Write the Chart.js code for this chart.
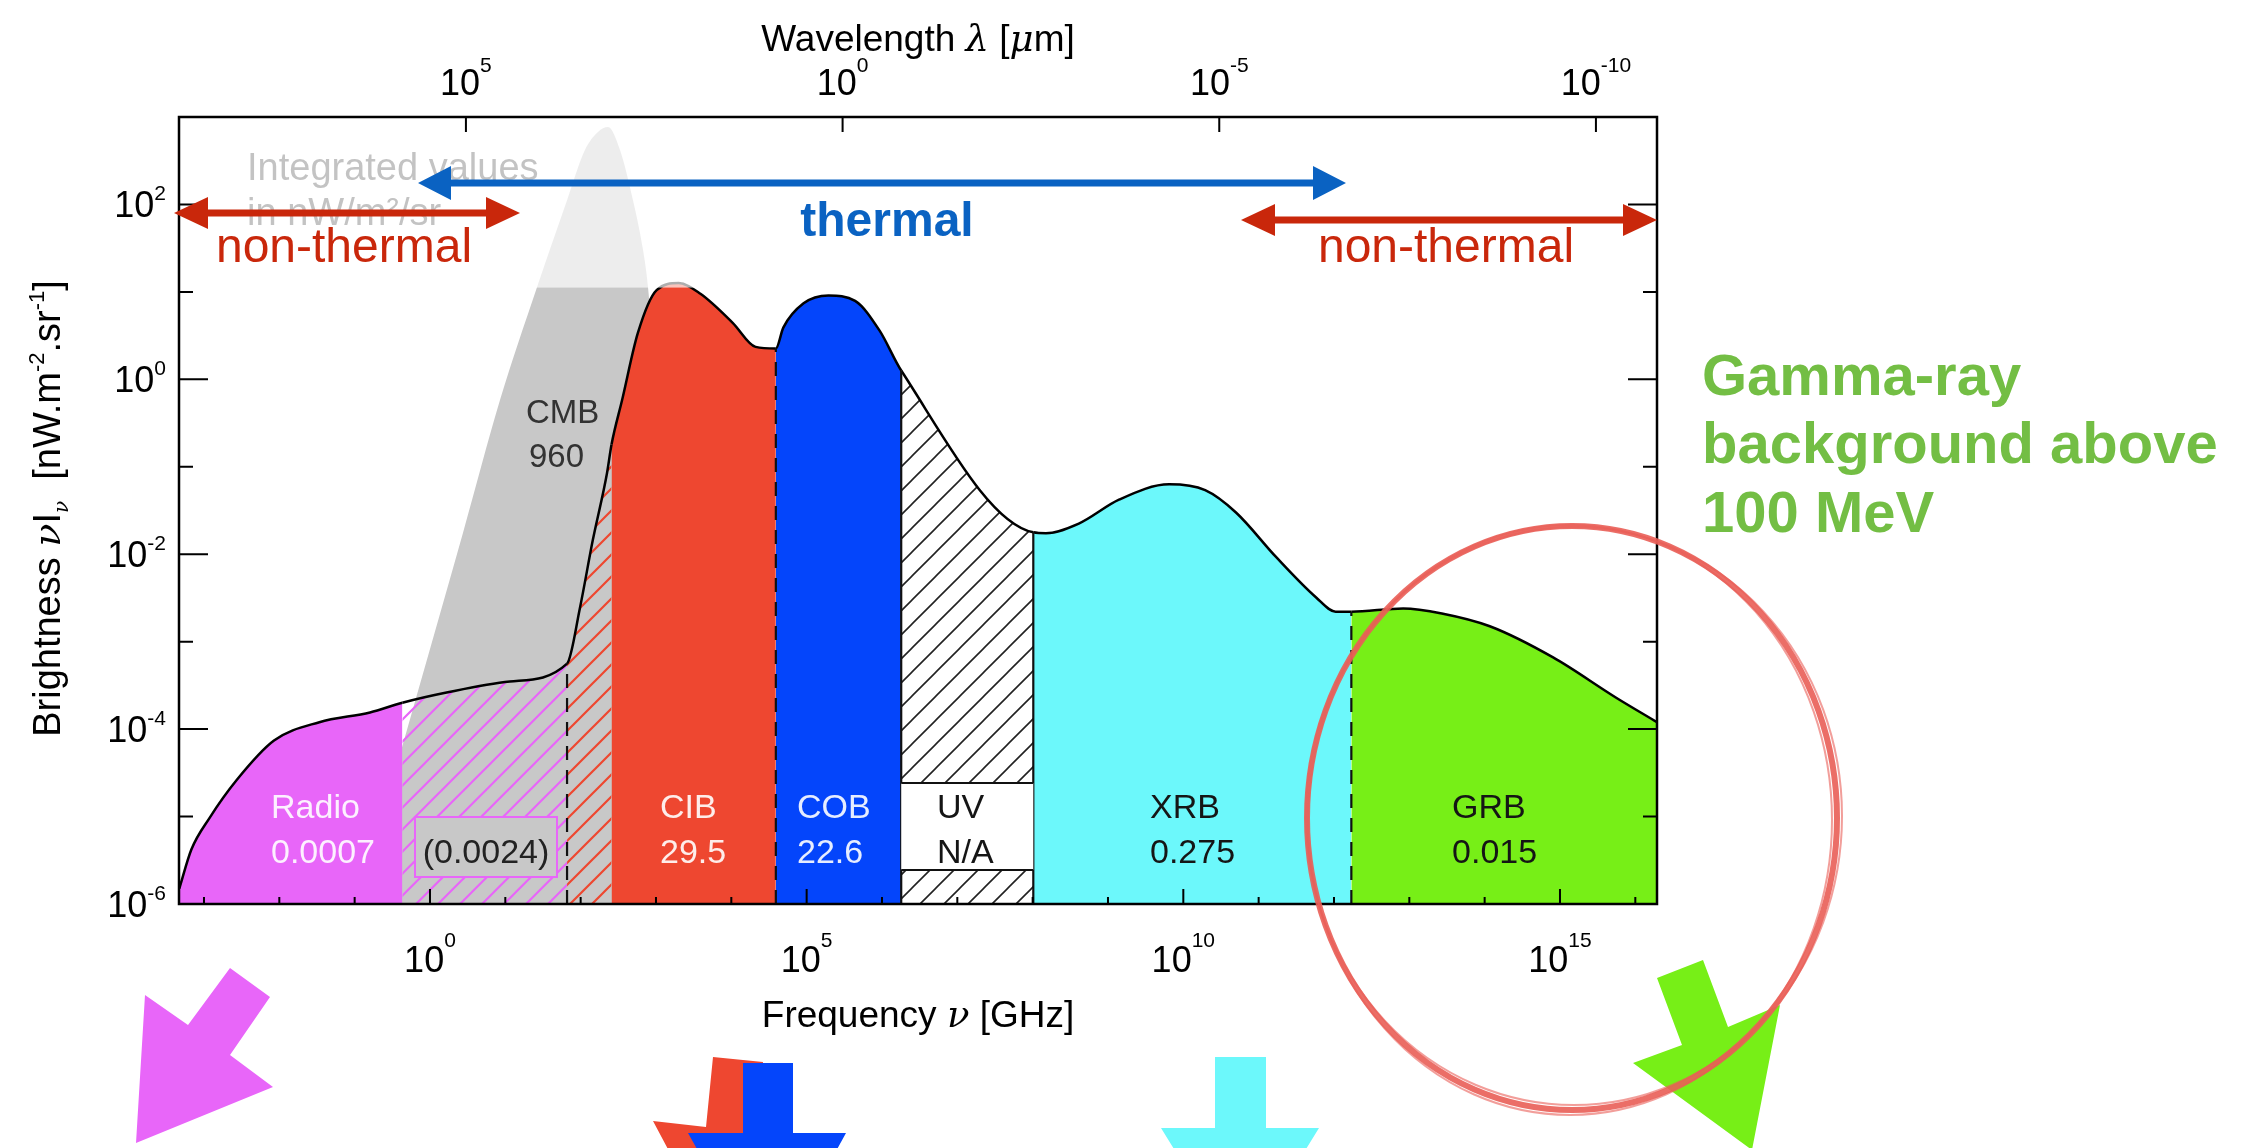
<!DOCTYPE html>
<html>
<head>
<meta charset="utf-8">
<title>Extragalactic background</title>
<script src="https://cdn.jsdelivr.net/npm/chart.js@4.4.0/dist/chart.umd.min.js"></script>
<style>
  html, body { margin: 0; padding: 0; background: #fff; }
  canvas { display: block; }
</style>
</head>
<body>
<canvas id="ebl" width="2241" height="1148"></canvas>
<script>
// values: frequency in GHz, brightness nu*I_nu in nW m^-2 sr^-1
const envFreq = [4.7e-4, 6.8e-4, 1.2e-3, 2.7e-3, 8.5e-3, 0.034, 0.16, 0.43, 1.6, 11.5,
  66, 98, 145, 224, 257, 355, 575, 1020, 2000, 3890,
  1.05e4, 2.1e4, 3.9e4, 4.9e4, 9.1e4, 1.95e5, 4.4e5, 9.3e5, 1.8e6, 1.02e8,
  1.5e8, 4.1e8, 1.4e9, 6.5e9, 1.95e10, 5.0e10, 1.7e11, 5.8e11, 1.05e12, 1.7e12,
  8.3e12, 2.7e13, 1.17e14, 8.1e14, 5.5e15, 1.94e16];
const envBright = [1.5e-6, 4.2e-6, 9.8e-6, 2.6e-5, 7.4e-5, 1.2e-4, 1.55e-4, 2.0e-4, 2.6e-4, 3.5e-4,
  5.6e-4, 2.45e-3, 0.0145, 0.085, 0.18, 0.58, 3.4, 10.5, 12.6, 9.5,
  4.4, 2.35, 2.25, 3.9, 7.4, 9.1, 7.9, 3.6, 1.26, 0.0178,
  0.0174, 0.0224, 0.042, 0.063, 0.054, 0.030, 0.0093, 0.0032, 0.0022, 0.0022,
  0.0024, 0.0021, 0.0015, 6.6e-4, 2.3e-4, 1.2e-4];
const cmbFreq = [0.101, 0.67, 2.74, 8.5, 26.4, 66, 114, 170, 231, 333, 495, 673, 783, 1130, 1633, 2090];
const cmbBright = [7.9e-7, 2.45e-4, 0.0175, 0.58, 11.4, 112, 420, 675, 769, 420, 112, 30.1, 11.4, 0.155, 2.15e-4, 7.9e-7];

// band limits along the envelope (each one is also a point of envFreq)
const bandEdges = [0.43, 66, 257, 3.9e4, 1.8e6, 1.02e8, 1.7e12];
const bandNames = ['Radio', 'CMB', 'CIB', 'COB', 'UV', 'XRB', 'GRB'];
const bandTotals = ['0.0007', '960', '29.5', '22.6', 'N/A', '0.275', '0.015'];
const radioHiddenTotal = '(0.0024)';

const freqTickExp = [0, 5, 10, 15];
const waveTickExp = [5, 0, -5, -10];
const brightTickExp = [-6, -4, -2, 0, 2];
const freqRange = [4.66e-4, 1.94e16];
const brightRange = [1e-6, 1e3];
const cGHzUm = 3e5; // lambda[um] = c / nu[GHz]

const canvas = document.getElementById('ebl');
const mainCtx = canvas.getContext('2d');

const RADIO = '#E866F9', CIB = '#EE4730', COB = '#0445FB', XRB = '#6CF8FB', GRB = '#77EF17', CMB = '#C8C8C8';
const SANS = '"Liberation Sans", Arial, Helvetica, sans-serif';
const SERIF = '"DejaVu Serif", "Liberation Serif", serif';

function hatch(color, gap, width) {
  const c = document.createElement('canvas');
  c.width = gap; c.height = gap;
  const g = c.getContext('2d');
  g.strokeStyle = color; g.lineWidth = width;
  g.beginPath();
  g.moveTo(-2, gap + 2); g.lineTo(gap + 2, -2);
  g.moveTo(-3, 3); g.lineTo(3, -3);
  g.moveTo(gap - 3, gap + 3); g.lineTo(gap + 3, gap - 3);
  g.stroke();
  return mainCtx.createPattern(c, 'repeat');
}

const bandFills = [RADIO, hatch(RADIO, 22, 2.2), hatch(CIB, 22, 2.2), CIB, COB, hatch('#222', 24, 1.6), XRB, GRB];
const bandOf = f => bandEdges.filter(e => e <= f).length;

function richWidth(ctx, parts) {
  let w = 0;
  for (const p of parts) { ctx.font = p.font; w += ctx.measureText(p.text).width; }
  return w;
}
function drawRich(ctx, parts, x, y, align) {
  const w = richWidth(ctx, parts);
  let cx = align === 'center' ? x - w / 2 : align === 'right' ? x - w : x;
  ctx.textAlign = 'left';
  ctx.textBaseline = 'alphabetic';
  for (const p of parts) {
    ctx.font = p.font;
    ctx.fillText(p.text, cx, y + (p.dy || 0));
    cx += ctx.measureText(p.text).width;
  }
}
const pow10 = (exp, raise) => [
  { text: '10', font: '36px ' + SANS },
  { text: String(exp), font: '21px ' + SANS, dy: raise }
];

function arrowH(ctx, x1, x2, y, shaft, headLen, headHalf, color) {
  const a = x1 + headLen, b = x2 - headLen;
  ctx.fillStyle = color;
  ctx.beginPath();
  ctx.moveTo(x2, y);
  ctx.lineTo(b, y - headHalf); ctx.lineTo(b, y - shaft / 2);
  ctx.lineTo(a, y - shaft / 2); ctx.lineTo(a, y - headHalf);
  ctx.lineTo(x1, y);
  ctx.lineTo(a, y + headHalf); ctx.lineTo(a, y + shaft / 2);
  ctx.lineTo(b, y + shaft / 2); ctx.lineTo(b, y + headHalf);
  ctx.closePath();
  ctx.fill();
}
function poly(ctx, pts, color) {
  ctx.fillStyle = color;
  ctx.beginPath();
  pts.forEach(([x, y], i) => i ? ctx.lineTo(x, y) : ctx.moveTo(x, y));
  ctx.closePath();
  ctx.fill();
}

const decor = {
  id: 'decor',
  afterDraw(chart) {
    const ctx = chart.ctx;
    const { left, right, top, bottom } = chart.chartArea;
    const xs = chart.scales.x, ys = chart.scales.y, xt = chart.scales.xTop;
    const pts = chart.getDatasetMeta(0).data;
    const edgePoint = k => pts[envFreq.indexOf(bandEdges[k])];
    ctx.save();

    // band separators
    ctx.strokeStyle = '#111';
    ctx.lineWidth = 2.2;
    for (const k of [1, 3, 6]) {
      const p = edgePoint(k);
      ctx.setLineDash([14, 10]);
      ctx.beginPath(); ctx.moveTo(p.x, bottom); ctx.lineTo(p.x, p.y); ctx.stroke();
    }
    ctx.setLineDash([]);
    for (const k of [4, 5]) {
      const p = edgePoint(k);
      ctx.beginPath(); ctx.moveTo(p.x, bottom); ctx.lineTo(p.x, p.y); ctx.stroke();
    }

    // UV box
    const ux0 = xs.getPixelForValue(bandEdges[4]), ux1 = xs.getPixelForValue(bandEdges[5]);
    ctx.fillStyle = '#fff';
    ctx.fillRect(ux0, bottom - 121, ux1 - ux0, 87);
    ctx.lineWidth = 2;
    ctx.beginPath();
    ctx.moveTo(ux0, bottom - 121); ctx.lineTo(ux1, bottom - 121);
    ctx.moveTo(ux0, bottom - 34); ctx.lineTo(ux1, bottom - 34);
    ctx.stroke();

    // hidden radio total box
    const hx = xs.getPixelForValue(5.54);
    ctx.fillStyle = CMB;
    ctx.fillRect(hx - 71, bottom - 87, 142, 60);
    ctx.strokeStyle = RADIO;
    ctx.strokeRect(hx - 71, bottom - 87, 142, 60);
    ctx.fillStyle = '#222';
    ctx.font = '34px ' + SANS;
    ctx.textAlign = 'center';
    ctx.fillText(radioHiddenTotal, hx, bottom - 41);

    // band labels
    const anchor = [7.76e-3, 18.8, 1130, 7.45e4, 5.37e6, 3.61e9, 3.69e13];
    const light = [true, false, true, true, false, false, false];
    ctx.textAlign = 'left';
    bandNames.forEach((name, i) => {
      const x = xs.getPixelForValue(anchor[i]);
      const y1 = i === 1 ? top + 306 : bottom - 86;
      const y2 = i === 1 ? top + 350 : bottom - 41;
      ctx.fillStyle = light[i] ? 'rgba(255,255,255,0.9)' : (i === 1 ? '#333' : '#151515');
      ctx.font = (i === 1 ? '33px ' : '34px ') + SANS;
      ctx.fillText(name, x, y1);
      ctx.fillText(bandTotals[i], x + (i === 1 ? 3 : 0), y2);
    });

    // faded note and white veil over the top of the plot
    ctx.fillStyle = '#444';
    ctx.font = '38px ' + SANS;
    ctx.fillText('Integrated values', 247, 180);
    ctx.fillText('in nW/m\u00B2/sr', 247, 225);
    const veil = ys.getPixelForValue(11.2);
    ctx.fillStyle = 'rgba(255,255,255,0.68)';
    ctx.fillRect(left, top, right - left, veil - top);

    // frame and inward ticks
    ctx.strokeStyle = '#000';
    ctx.lineWidth = 2.5;
    ctx.strokeRect(left, top, right - left, bottom - top);
    ctx.lineWidth = 2;
    ctx.beginPath();
    for (let e = -5; e <= 2; e++) {
      const y = ys.getPixelForValue(Math.pow(10, e));
      const len = e % 2 === 0 ? 29 : 14;
      ctx.moveTo(left, y); ctx.lineTo(left + len, y);
      ctx.moveTo(right, y); ctx.lineTo(right - len, y);
    }
    for (let e = -3; e <= 16; e++) {
      const x = xs.getPixelForValue(Math.pow(10, e));
      ctx.moveTo(x, bottom); ctx.lineTo(x, bottom - (e % 5 === 0 ? 15 : 7));
    }
    for (const e of waveTickExp) {
      const x = xt.getPixelForValue(Math.pow(10, e));
      ctx.moveTo(x, top); ctx.lineTo(x, top + 15);
    }
    ctx.stroke();

    // tick labels
    ctx.fillStyle = '#000';
    for (const e of brightTickExp) {
      drawRich(ctx, pow10(e, -17), left - 13, ys.getPixelForValue(Math.pow(10, e)) + 13, 'right');
    }
    for (const e of freqTickExp) {
      drawRich(ctx, pow10(e, -25), xs.getPixelForValue(Math.pow(10, e)), bottom + 68, 'center');
    }
    for (const e of waveTickExp) {
      drawRich(ctx, pow10(e, -23), xt.getPixelForValue(Math.pow(10, e)), top - 22, 'center');
    }

    // axis titles
    const t = '37px ' + SANS, ti = 'italic 37px ' + SERIF;
    const mid = (left + right) / 2;
    drawRich(ctx, [{ text: 'Wavelength ', font: t }, { text: '\u03BB', font: ti }, { text: ' [', font: t },
      { text: '\u03BC', font: ti }, { text: 'm]', font: t }], mid, 51, 'center');
    drawRich(ctx, [{ text: 'Frequency ', font: t }, { text: '\u03BD', font: ti }, { text: ' [GHz]', font: t }],
      mid, bottom + 123, 'center');
    ctx.save();
    ctx.translate(60, (top + bottom) / 2 - 2);
    ctx.rotate(-Math.PI / 2);
    const y0 = '38px ' + SANS, yi = 'italic 38px ' + SERIF, ys2 = '22px ' + SANS;
    drawRich(ctx, [{ text: 'Brightness ', font: y0 }, { text: '\u03BD', font: yi }, { text: 'I', font: y0 },
      { text: '\u03BD', font: 'italic 20px ' + SERIF, dy: 8 }, { text: '  [nW.m', font: y0 },
      { text: '-2', font: ys2, dy: -16 }, { text: '.sr', font: y0 }, { text: '-1', font: ys2, dy: -16 },
      { text: ']', font: y0 }], 0, 0, 'center');
    ctx.restore();

    // thermal / non-thermal arrows
    arrowH(ctx, 418, 1346, 183, 7, 33, 17, '#0A62C2');
    arrowH(ctx, 174, 520, 213, 7, 34, 16, '#C9270B');
    arrowH(ctx, 1241, 1657, 220, 7, 34, 16, '#C9270B');
    ctx.textAlign = 'center';
    ctx.fillStyle = '#0A62C2';
    ctx.font = 'bold 48px ' + SANS;
    ctx.fillText('thermal', 887, 236);
    ctx.fillStyle = '#C9270B';
    ctx.font = '48px ' + SANS;
    ctx.fillText('non-thermal', 344, 262);
    ctx.fillText('non-thermal', 1446, 262);

    // slide annotations
    ctx.textAlign = 'left';
    ctx.fillStyle = '#73BE44';
    ctx.font = 'bold 58px ' + SANS;
    ctx.fillText('Gamma-ray', 1702, 395);
    ctx.fillText('background above', 1702, 463);
    ctx.fillText('100 MeV', 1702, 532);

    poly(ctx, [[230, 968], [270, 997], [230, 1055], [273, 1087], [136, 1143], [145, 995], [188, 1025]], RADIO);
    poly(ctx, [[713, 1057], [763, 1062], [757, 1130], [815, 1138], [735, 1275], [653, 1121], [706, 1127]], CIB);
    poly(ctx, [[743, 1063], [793, 1063], [793, 1133], [846, 1133], [768, 1275], [688, 1133], [743, 1133]], COB);
    poly(ctx, [[1215, 1057], [1266, 1057], [1266, 1128], [1319, 1128], [1240, 1256], [1161, 1128], [1215, 1128]], XRB);
    poly(ctx, [[1657, 978], [1703, 960], [1728, 1027], [1780, 1005], [1752, 1150], [1633, 1063], [1682, 1045]], GRB);

    // hand-drawn ring
    ctx.strokeStyle = 'rgba(233, 94, 86, 0.9)';
    ctx.lineWidth = 6;
    ctx.beginPath();
    ctx.ellipse(1572, 818, 265, 292, 0, 0, Math.PI * 2);
    ctx.stroke();
    ctx.lineWidth = 2;
    ctx.strokeStyle = 'rgba(233, 94, 86, 0.6)';
    for (const [dx, dy, dr] of [[2, -2, 3], [-2, 2, -3]]) {
      ctx.beginPath();
      ctx.ellipse(1572 + dx, 818 + dy, 265 + dr, 292 - dr, 0, 0, Math.PI * 2);
      ctx.stroke();
    }
    ctx.restore();
  }
};

new Chart(canvas, {
  type: 'line',
  data: {
    datasets: [{
      label: 'EBL',
      data: envFreq.map((f, i) => ({ x: f, y: envBright[i] })),
      borderColor: '#000',
      borderWidth: 2.5,
      backgroundColor: RADIO,
      fill: 'start',
      pointRadius: 0,
      cubicInterpolationMode: 'monotone',
      order: 1,
      segment: {
        backgroundColor: ctx => bandFills[bandOf(envFreq[ctx.p0DataIndex])]
      }
    }, {
      label: 'CMB',
      data: cmbFreq.map((f, i) => ({ x: f, y: cmbBright[i] })),
      borderWidth: 0,
      borderColor: 'rgba(0,0,0,0)',
      backgroundColor: CMB,
      fill: 'start',
      pointRadius: 0,
      cubicInterpolationMode: 'monotone',
      order: 2
    }]
  },
  options: {
    responsive: false,
    devicePixelRatio: 1,
    animation: false,
    events: [],
    layout: { padding: { left: 179, right: 584, top: 117, bottom: 244 } },
    plugins: { legend: { display: false }, tooltip: { enabled: false } },
    scales: {
      x: { type: 'logarithmic', display: false, bounds: 'data', min: freqRange[0], max: freqRange[1] },
      xTop: {
        type: 'logarithmic', axis: 'x', position: 'top', display: false, reverse: true, bounds: 'data',
        min: cGHzUm / freqRange[1], max: cGHzUm / freqRange[0]
      },
      y: { type: 'logarithmic', display: false, bounds: 'data', min: brightRange[0], max: brightRange[1] }
    }
  },
  plugins: [decor]
});
</script>
</body>
</html>
